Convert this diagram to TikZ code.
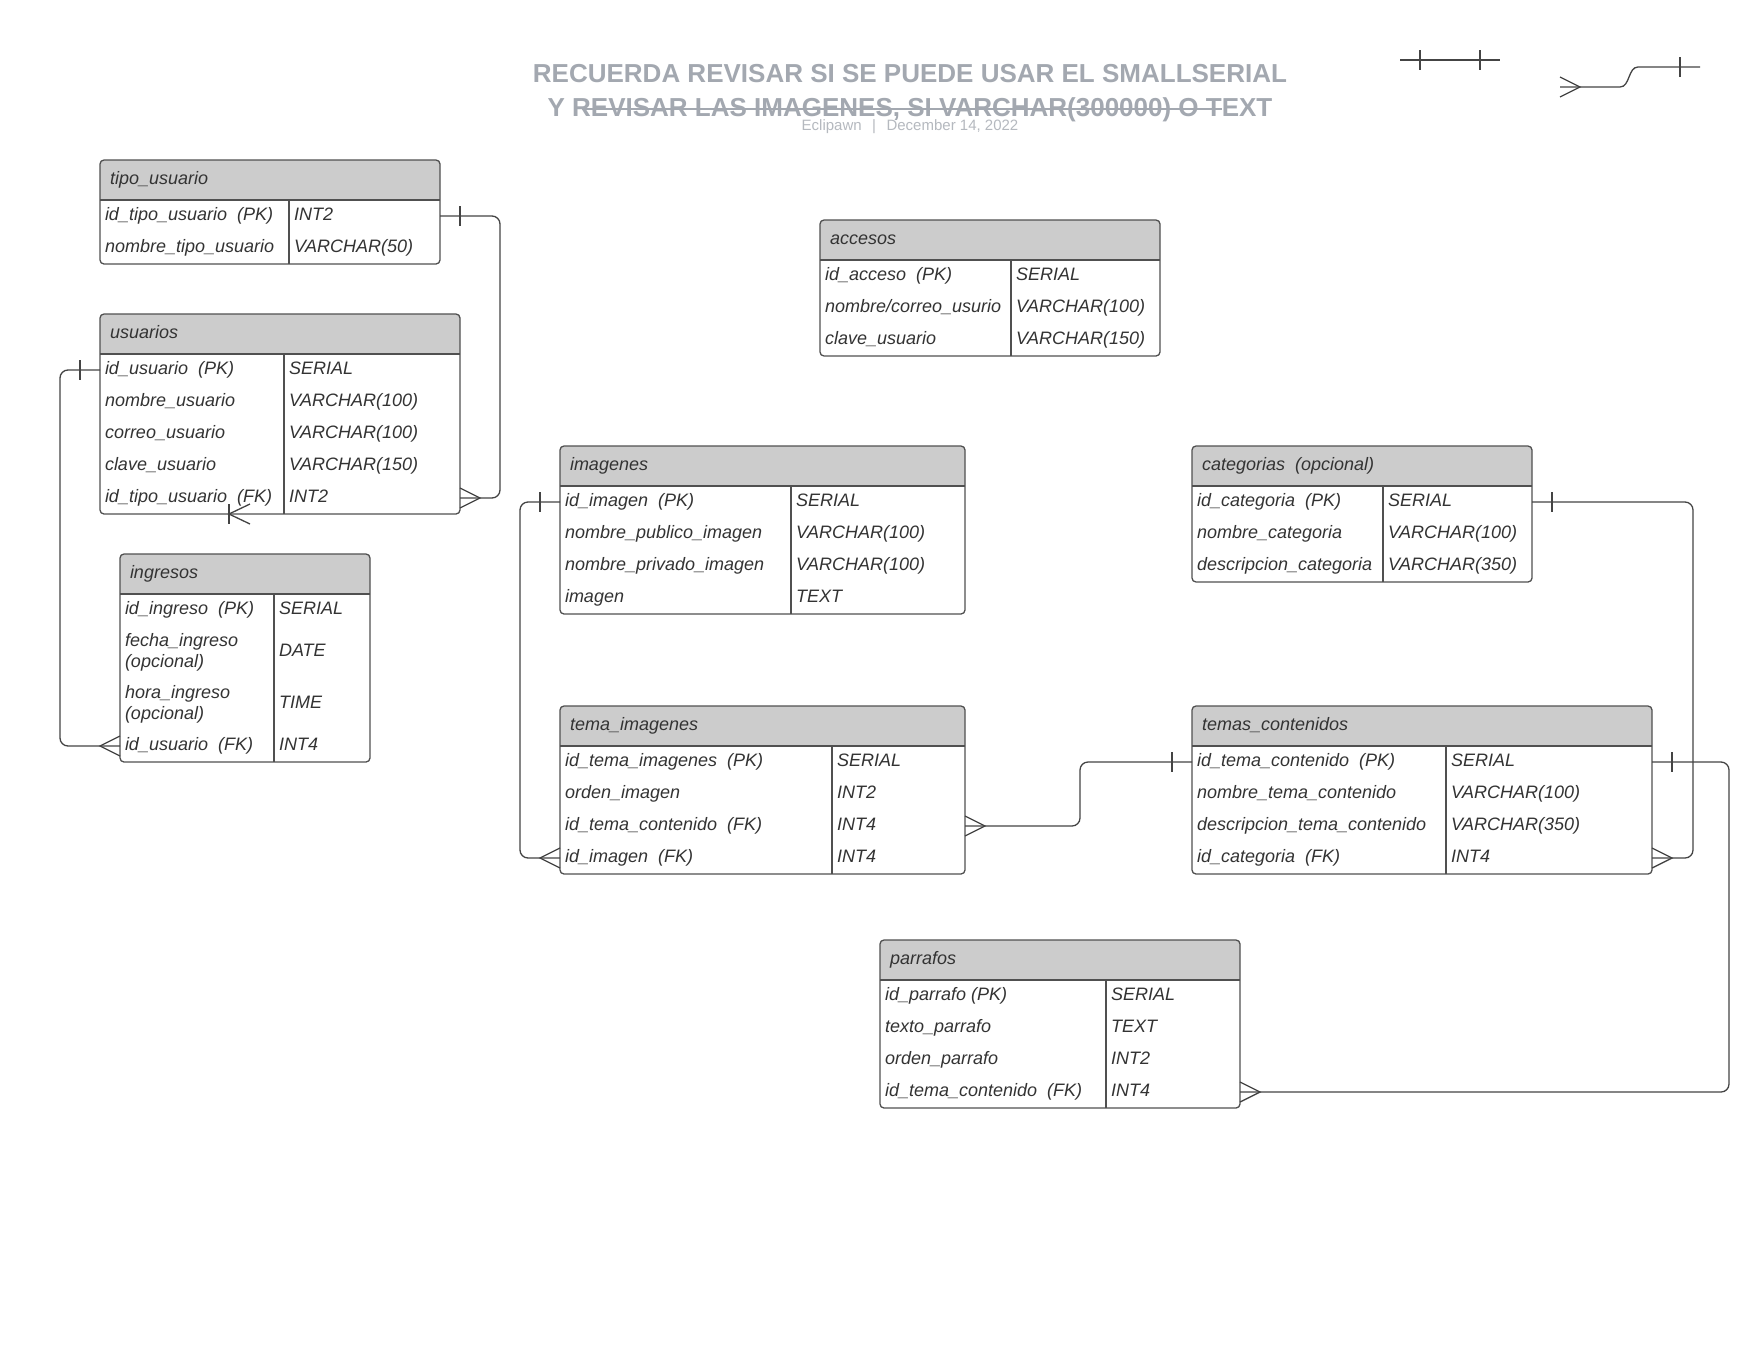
\documentclass[tikz,border=0pt]{standalone}
\usepackage{fontspec}
\setmainfont{Liberation Sans}
\definecolor{linec}{HTML}{444444}
\definecolor{framec}{HTML}{505050}
\definecolor{headc}{HTML}{CCCCCC}
\definecolor{txtc}{HTML}{333333}
\definecolor{titlec}{HTML}{A3A8B0}
\definecolor{subc}{HTML}{B5B9BF}
\newcommand\mycellfont{\fontsize{18pt}{21pt}\selectfont\itshape}
\newcommand\mytitlefont{\fontsize{26pt}{30pt}\selectfont\bfseries}
\newcommand\mysubfont{\fontsize{15pt}{17pt}\selectfont}
\tikzset{
  conn/.style={draw=linec, line width=1.3pt, rounded corners=8pt},
  cf/.style={draw=linec, line width=1.3pt},
  frame/.style={draw=framec, line width=1.3pt},
  rowbox/.style={inner sep=0pt, outer sep=0pt, anchor=north west},
  celltxt/.style={inner sep=0pt, outer sep=0pt, text=txtc, font=\mycellfont, text height=9pt, text depth=0pt},
  celltwo/.style={inner sep=0pt, outer sep=0pt, text=txtc, font=\mycellfont, align=left},
  headtxt/.style={inner sep=0pt, outer sep=0pt, text=txtc, font=\mycellfont, text height=9pt, text depth=0pt},
  titletxt/.style={inner sep=0pt, text=titlec, font=\mytitlefont},
  subtxt/.style={inner sep=0pt, text=subc, font=\mysubfont},
}
% row: name, L, top, W, h, divider offset, left text, right text
\newcommand\erow[8]{%
  \node[rowbox, minimum width=#4pt, minimum height=#5pt] (#1) at (#2,#3) {};
  \node[celltxt, anchor=west] (#1k) at ([xshift=5pt]#1.west) {#7};
  \node[celltxt, anchor=west] (#1t) at ([xshift=#6pt+5pt]#1.west) {#8};
}
% background: L, T, W, H
\newcommand\ebg[4]{%
  \fill[white, rounded corners=4pt] (#1,#2) rectangle ++(#3,#4);
  \begin{scope}
    \clip (#1,#2) rectangle ++(#3,40);
    \fill[headc, rounded corners=4pt] (#1,#2) rectangle ++(#3,#4);
  \end{scope}
}
% frame: L, T, W, H, divider offset
\newcommand\eframe[5]{%
  \draw[frame] (#1,#2+40) -- ++(#3,0);
  \draw[frame] (#1+#5,#2+40) -- (#1+#5,#2+#4);
  \draw[frame, rounded corners=4pt] (#1,#2) rectangle ++(#3,#4);
}
\newcommand\crowR[1]{\draw[cf] ([yshift=10pt]#1) -- ([xshift=20pt]#1) -- ([yshift=-10pt]#1);}
\newcommand\crowL[1]{\draw[cf] ([yshift=10pt]#1) -- ([xshift=-20pt]#1) -- ([yshift=-10pt]#1);}
\newcommand\tickR[1]{\draw[cf] ([xshift=20pt,yshift=10pt]#1) -- ([xshift=20pt,yshift=-10pt]#1);}
\newcommand\tickL[1]{\draw[cf] ([xshift=-20pt,yshift=10pt]#1) -- ([xshift=-20pt,yshift=-10pt]#1);}
\begin{document}
\begin{tikzpicture}[x=1pt,y=-1pt]
\fill[white] (0,0) rectangle (1760,1360);
\useasboundingbox (0,0) rectangle (1760,1360);

% ---------- title ----------
\node[titletxt, anchor=base] (title1) at (910,82) {RECUERDA REVISAR SI SE PUEDE USAR EL SMALLSERIAL};
\node[titletxt, anchor=base] (title2) at (910,116) {Y REVISAR LAS IMAGENES, SI VARCHAR(300000) O TEXT};
\node[subtxt, anchor=base] (sub) at (910,130) {Eclipawn\hspace{0.7em}|\hspace{0.7em}December 14, 2022};
\coordinate (s1) at (582,109);
\coordinate (s2) at (1222,109);
\draw[titlec, line width=2pt] (s1) -- (s2);

% ---------- legend (top right) ----------
\coordinate (la) at (1400,60);
\coordinate (lb) at (1500,60);
\draw[cf] (la) -- (lb);
\draw[cf] (1420,50) -- (1420,70);
\draw[cf] (1480,50) -- (1480,70);
\coordinate (lc) at (1560,87);
\coordinate (lv) at (1580,87);
\coordinate (ld) at (1700,67);
\draw[cf] (1560,77) -- (lv) -- (1560,97);
\draw[cf] (lc) -- (lv) -- (1620,87) .. controls (1630,87) and (1628,67) .. (1638,67) -- (ld);
\draw[cf] (1680,57) -- (1680,77);

% ---------- tipo_usuario ----------
\ebg{100}{160}{340}{104}
\node[headtxt, anchor=west] (tipoH) at (110,180) {tipo\_usuario};
\erow{tu1}{100}{200}{340}{32}{189}{id\_tipo\_usuario~~(PK)}{INT2}
\erow{tu2}{100}{232}{340}{32}{189}{nombre\_tipo\_usuario}{VARCHAR(50)}
\eframe{100}{160}{340}{104}{189}

% ---------- usuarios ----------
\ebg{100}{314}{360}{200}
\node[headtxt, anchor=west] (usuH) at (110,334) {usuarios};
\erow{us1}{100}{354}{360}{32}{184}{id\_usuario~~(PK)}{SERIAL}
\erow{us2}{100}{386}{360}{32}{184}{nombre\_usuario}{VARCHAR(100)}
\erow{us3}{100}{418}{360}{32}{184}{correo\_usuario}{VARCHAR(100)}
\erow{us4}{100}{450}{360}{32}{184}{clave\_usuario}{VARCHAR(150)}
\erow{us5}{100}{482}{360}{32}{184}{id\_tipo\_usuario~~(FK)}{INT2}
\eframe{100}{314}{360}{200}{184}

% ---------- ingresos ----------
\ebg{120}{554}{250}{208}
\node[headtxt, anchor=west] (ingH) at (130,574) {ingresos};
\erow{in1}{120}{594}{250}{32}{154}{id\_ingreso~~(PK)}{SERIAL}
\node[rowbox, minimum width=250pt, minimum height=52pt] (in2) at (120,626) {};
\node[celltwo, anchor=west] (in2k) at ([xshift=5pt]in2.west) {fecha\_ingreso\\(opcional)};
\node[celltxt, anchor=west] (in2t) at ([xshift=159pt]in2.west) {DATE};
\node[rowbox, minimum width=250pt, minimum height=52pt] (in3) at (120,678) {};
\node[celltwo, anchor=west] (in3k) at ([xshift=5pt]in3.west) {hora\_ingreso\\(opcional)};
\node[celltxt, anchor=west] (in3t) at ([xshift=159pt]in3.west) {TIME};
\erow{in4}{120}{730}{250}{32}{154}{id\_usuario~~(FK)}{INT4}
\eframe{120}{554}{250}{208}{154}

% ---------- accesos ----------
\ebg{820}{220}{340}{136}
\node[headtxt, anchor=west] (accH) at (830,240) {accesos};
\erow{ac1}{820}{260}{340}{32}{191}{id\_acceso~~(PK)}{SERIAL}
\erow{ac2}{820}{292}{340}{32}{191}{nombre/correo\_usurio}{VARCHAR(100)}
\erow{ac3}{820}{324}{340}{32}{191}{clave\_usuario}{VARCHAR(150)}
\eframe{820}{220}{340}{136}{191}

% ---------- imagenes ----------
\ebg{560}{446}{405}{168}
\node[headtxt, anchor=west] (imgH) at (570,466) {imagenes};
\erow{im1}{560}{486}{405}{32}{231}{id\_imagen~~(PK)}{SERIAL}
\erow{im2}{560}{518}{405}{32}{231}{nombre\_publico\_imagen}{VARCHAR(100)}
\erow{im3}{560}{550}{405}{32}{231}{nombre\_privado\_imagen}{VARCHAR(100)}
\erow{im4}{560}{582}{405}{32}{231}{imagen}{TEXT}
\eframe{560}{446}{405}{168}{231}

% ---------- categorias ----------
\ebg{1192}{446}{340}{136}
\node[headtxt, anchor=west] (catH) at (1202,466) {categorias~~(opcional)};
\erow{ca1}{1192}{486}{340}{32}{191}{id\_categoria~~(PK)}{SERIAL}
\erow{ca2}{1192}{518}{340}{32}{191}{nombre\_categoria}{VARCHAR(100)}
\erow{ca3}{1192}{550}{340}{32}{191}{descripcion\_categoria}{VARCHAR(350)}
\eframe{1192}{446}{340}{136}{191}

% ---------- tema_imagenes ----------
\ebg{560}{706}{405}{168}
\node[headtxt, anchor=west] (timH) at (570,726) {tema\_imagenes};
\erow{ti1}{560}{746}{405}{32}{272}{id\_tema\_imagenes~~(PK)}{SERIAL}
\erow{ti2}{560}{778}{405}{32}{272}{orden\_imagen}{INT2}
\erow{ti3}{560}{810}{405}{32}{272}{id\_tema\_contenido~~(FK)}{INT4}
\erow{ti4}{560}{842}{405}{32}{272}{id\_imagen~~(FK)}{INT4}
\eframe{560}{706}{405}{168}{272}

% ---------- temas_contenidos ----------
\ebg{1192}{706}{460}{168}
\node[headtxt, anchor=west] (tcH) at (1202,726) {temas\_contenidos};
\erow{tc1}{1192}{746}{460}{32}{254}{id\_tema\_contenido~~(PK)}{SERIAL}
\erow{tc2}{1192}{778}{460}{32}{254}{nombre\_tema\_contenido}{VARCHAR(100)}
\erow{tc3}{1192}{810}{460}{32}{254}{descripcion\_tema\_contenido}{VARCHAR(350)}
\erow{tc4}{1192}{842}{460}{32}{254}{id\_categoria~~(FK)}{INT4}
\eframe{1192}{706}{460}{168}{254}

% ---------- parrafos ----------
\ebg{880}{940}{360}{168}
\node[headtxt, anchor=west] (parH) at (890,960) {parrafos};
\erow{pa1}{880}{980}{360}{32}{226}{id\_parrafo (PK)}{SERIAL}
\erow{pa2}{880}{1012}{360}{32}{226}{texto\_parrafo}{TEXT}
\erow{pa3}{880}{1044}{360}{32}{226}{orden\_parrafo}{INT2}
\erow{pa4}{880}{1076}{360}{32}{226}{id\_tema\_contenido~~(FK)}{INT4}
\eframe{880}{940}{360}{168}{226}

% ---------- connectors ----------
\draw[conn] (tu1.east) -- ++(60,0) |- (us5.east);
\tickR{tu1.east} \crowR{us5.east}

\draw[conn] (us1.west) -- ++(-40,0) |- (in4.west);
\tickL{us1.west} \crowL{in4.west}

\draw[conn] (im1.west) -- ++(-40,0) |- (ti4.west);
\tickL{im1.west} \crowL{ti4.west}

\draw[conn] (tc1.west) -- ++(-112,0) |- (ti3.east);
\tickL{tc1.west} \crowR{ti3.east}

\draw[conn] (ca1.east) -- ++(161,0) |- (tc4.east);
\tickR{ca1.east} \crowR{tc4.east}

\draw[conn] (tc1.east) -- ++(77,0) |- (pa4.east);
\tickR{tc1.east} \crowR{pa4.east}

% stray crow's foot on the bottom edge of usuarios
\coordinate (stray) at (229,514);
\draw[cf] ([yshift=10pt]stray) -- ([yshift=-10pt]stray);
\draw[cf] (250,504) -- (stray) -- (250,524);
\end{tikzpicture}
\end{document}
